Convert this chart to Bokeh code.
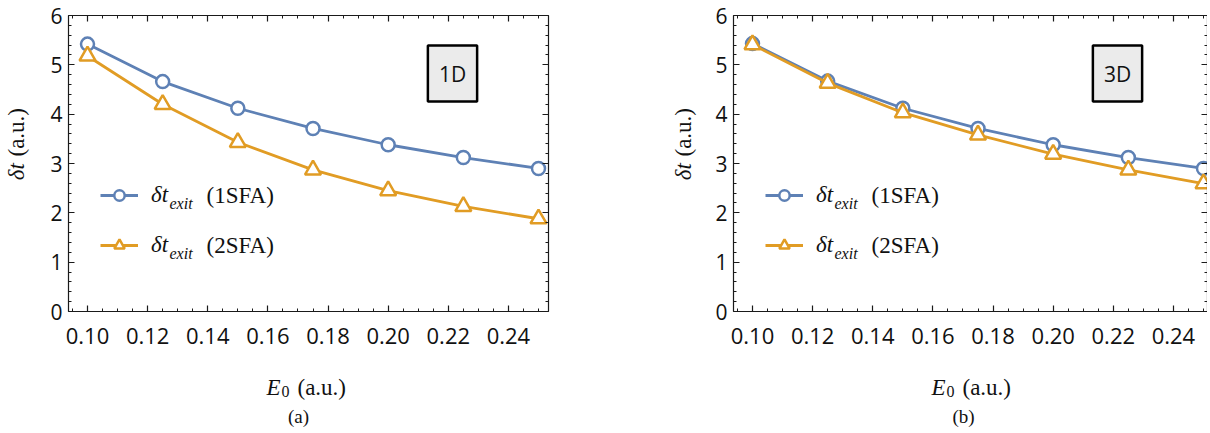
import math
import numpy as np
from bokeh.plotting import figure
from bokeh.models import (ColumnDataSource, Range1d, LinearAxis, FixedTicker,
                          PrintfTickFormatter, CustomJSTickFormatter, Label,
                          Legend, LegendItem)
from bokeh.layouts import row, column
from bokeh.embed import file_html
from bokeh.resources import INLINE

# ---------------- data ----------------
E0 = [0.100, 0.125, 0.150, 0.175, 0.200, 0.225, 0.250]
dt_1d_1sfa = [5.42, 4.66, 4.12, 3.71, 3.38, 3.12, 2.90]
dt_1d_2sfa = [5.18, 4.20, 3.43, 2.87, 2.45, 2.13, 1.88]
dt_3d_1sfa = [5.43, 4.67, 4.12, 3.71, 3.38, 3.12, 2.90]
dt_3d_2sfa = [5.41, 4.63, 4.03, 3.58, 3.19, 2.87, 2.59]
x_ticks = [0.10, 0.12, 0.14, 0.16, 0.18, 0.20, 0.22, 0.24]
y_ticks = [0, 1, 2, 3, 4, 5, 6]
series_tags = ["(1SFA)", "(2SFA)"]
panel_tags = ["1D", "3D"]
captions = ["(a)", "(b)"]

BLUE = "#5e81b5"
ORANGE = "#e19c24"
AX = "#1a1a1a"
TXT = "#111111"
SANS = "Open Sans"
SERIF = "Liberation Serif"

S = 451 / 0.15          # px per x unit
TOP = 15                # frame top (page px)
FH = 296                # frame height
YS = FH / 6.0           # px per y unit
X0 = 0.10 - 19 / S
MAIN_H = 361            # height of plotting figures
BOT_H = 433 - MAIN_H    # height of the text strip below


def text_fig(w, h):
    f = figure(width=w, height=h, x_range=Range1d(0, w), y_range=Range1d(0, h),
               min_border=0, x_axis_location=None, y_axis_location=None,
               output_backend="svg", toolbar_location=None)
    f.outline_line_color = None
    f.grid.visible = False
    f.background_fill_color = "white"
    f.border_fill_color = "white"
    return f


def make_main(tag, y1, y2, border_left, frame_w, border_right):
    x_end = X0 + frame_w / S
    p = figure(frame_width=frame_w, frame_height=FH,
               min_border_left=border_left, min_border_right=border_right,
               min_border_top=TOP, min_border_bottom=MAIN_H - TOP - FH,
               x_range=Range1d(X0, x_end), y_range=Range1d(0, 6),
               x_axis_location=None, y_axis_location=None,
               output_backend="svg", toolbar_location=None)
    p.outline_line_color = None
    p.grid.visible = False
    p.background_fill_color = "white"
    p.border_fill_color = "white"

    xminor = [round(v, 3) for v in np.arange(0.09, 0.2601, 0.005)]
    yminor = [round(v, 2) for v in np.arange(0, 6.001, 0.2)]

    def axis(ticker, formatter, standoff, size):
        return LinearAxis(ticker=ticker, formatter=formatter,
                          major_tick_in=6, major_tick_out=0,
                          minor_tick_in=3, minor_tick_out=0,
                          axis_line_color=AX, axis_line_width=1.2,
                          major_tick_line_color=AX, minor_tick_line_color=AX,
                          major_tick_line_width=1.2, minor_tick_line_width=1,
                          major_label_text_font=SANS,
                          major_label_text_font_size=size,
                          major_label_text_color=TXT,
                          major_label_standoff=standoff)

    blank = CustomJSTickFormatter(code="return ''")
    p.add_layout(axis(FixedTicker(ticks=x_ticks, minor_ticks=xminor),
                      PrintfTickFormatter(format="%.2f"), 16, "22px"), "below")
    p.add_layout(axis(FixedTicker(ticks=y_ticks, minor_ticks=yminor),
                      PrintfTickFormatter(format="%d"), 6, "21px"), "left")
    p.add_layout(axis(FixedTicker(ticks=x_ticks, minor_ticks=xminor), blank, 0, "1px"), "above")
    p.add_layout(axis(FixedTicker(ticks=y_ticks, minor_ticks=yminor), blank, 0, "1px"), "right")

    src = ColumnDataSource(dict(x=E0, a=y1, b=y2))
    l1 = p.line("x", "a", source=src, line_color=BLUE, line_width=2.8)
    s1 = p.scatter("x", "a", source=src, marker="circle", size=13,
                   line_color=BLUE, fill_color="white", line_width=2.5)
    l2 = p.line("x", "b", source=src, line_color=ORANGE, line_width=2.8)
    s2 = p.scatter("x", "b", source=src, marker="triangle", size=16,
                   line_color=ORANGE, fill_color="white", line_width=2.5)

    legend = Legend(items=[LegendItem(label="δt", renderers=[l1, s1]),
                           LegendItem(label="δt", renderers=[l2, s2])],
                    location=(32, 53), orientation="vertical",
                    glyph_width=38, glyph_height=26, label_height=26,
                    label_standoff=13, spacing=24, padding=0, margin=0,
                    border_line_color=None, background_fill_alpha=0,
                    label_text_font=SERIF, label_text_font_style="italic",
                    label_text_font_size="23px", label_text_color=TXT)
    p.add_layout(legend)

    def dx(px):      # px right of frame left -> data x
        return X0 + px / S

    def dy(py):      # page y -> data y
        return (TOP + FH - py) / YS

    for i, t in enumerate(series_tags):
        off = 50 * i
        p.add_layout(Label(x=dx(101), y=dy(203 + off), text="exit",
                           text_font=SERIF, text_font_style="italic",
                           text_font_size="16px", text_baseline="middle",
                           text_align="left", text_color=TXT))
        p.add_layout(Label(x=dx(138), y=dy(195 + off), text=t,
                           text_font=SERIF, text_font_size="23px",
                           text_baseline="middle", text_align="left",
                           text_color=TXT))

    p.add_layout(Label(x=dx(384), y=dy(73), text=tag, text_font=SANS,
                       text_font_size="21px", text_align="center",
                       text_baseline="middle", text_color=TXT,
                       background_fill_color="#ebebeb",
                       border_line_color="black", border_line_width=2.5,
                       padding=(11, 14)))
    return p


def make_ylabel(w, xc):
    f = text_fig(w, MAIN_H)
    f.add_layout(Label(x=xc, y=MAIN_H - 201, text="δt", angle=math.pi / 2,
                       text_font=SERIF, text_font_style="italic",
                       text_font_size="23px", text_align="left",
                       text_baseline="middle", text_color=TXT))
    f.add_layout(Label(x=xc, y=MAIN_H - 172, text="(a.u.)", angle=math.pi / 2,
                       text_font=SERIF, text_font_size="23px", text_align="left",
                       text_baseline="middle", text_color=TXT))
    return f


def make_bottom(w, frame_left, caption):
    # frame_left: x of the plot frame inside this strip
    f = text_fig(w, BOT_H)

    def y(py):
        return 433 - py

    f.add_layout(Label(x=frame_left + 198, y=y(387), text="E", text_font=SERIF,
                       text_font_style="italic", text_font_size="23px",
                       text_align="left", text_baseline="alphabetic",
                       text_color=TXT))
    f.add_layout(Label(x=frame_left + 213, y=y(391), text="0", text_font=SERIF,
                       text_font_size="16px", text_align="left",
                       text_baseline="alphabetic", text_color=TXT))
    f.add_layout(Label(x=frame_left + 229, y=y(387), text="(a.u.)", text_font=SERIF,
                       text_font_size="23px", text_align="left",
                       text_baseline="alphabetic", text_color=TXT))
    f.add_layout(Label(x=frame_left + 230, y=y(416), text=caption, text_font=SERIF,
                       text_font_size="19px", text_align="center",
                       text_baseline="middle", text_color=TXT))
    return f


# panel (a): strip 0..610, frame at 68
yl1 = make_ylabel(36, 16)
m1 = make_main(panel_tags[0], dt_1d_1sfa, dt_1d_2sfa, 32, 480, 62)
b1 = make_bottom(610, 68, captions[0])

# panel (b): strip 610..1210, frame at 733
yl2 = make_ylabel(90, 73)
m2 = make_main(panel_tags[1], dt_3d_1sfa, dt_3d_2sfa, 33, 474, 0)
b2 = make_bottom(600, 123, captions[1])

layout = row(column(row(yl1, m1, spacing=0), b1, spacing=0),
             column(row(yl2, m2, spacing=0), b2, spacing=0), spacing=0)
open("out.html", "w").write(file_html(layout, INLINE))
